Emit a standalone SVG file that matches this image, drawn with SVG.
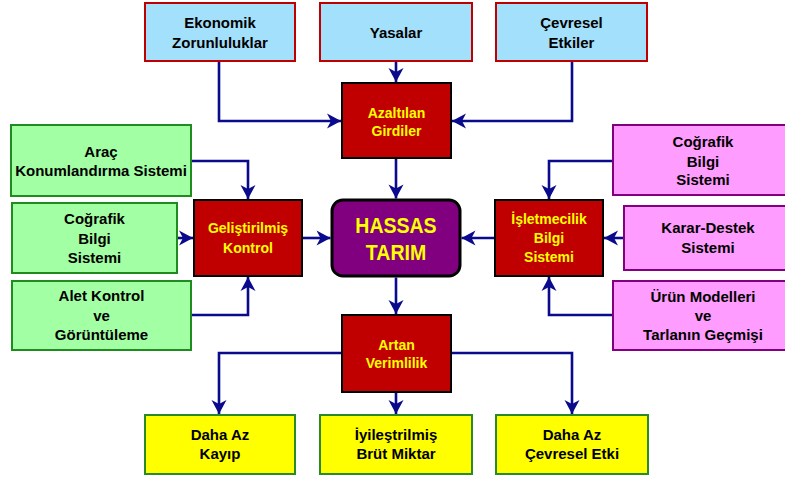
<svg xmlns="http://www.w3.org/2000/svg" width="785" height="477" viewBox="0 0 785 477">
  <style>
    text { font-family: "Liberation Sans", Arial, sans-serif; font-weight: bold; text-anchor: middle; }
    .t { font-size: 15px; fill: #000; }
    .y { font-size: 14px; fill: #ffff00; }
    .big { font-size: 19.5px; fill: #ffff00; }
    .blue { fill: #a3e0fb; stroke: #c00000; stroke-width: 2; }
    .green { fill: #a3ffa3; stroke: #1e8c1e; stroke-width: 2; }
    .pink { fill: #ff9cff; stroke: #800080; stroke-width: 2; }
    .yel { fill: #ffff00; stroke: #2a8a2a; stroke-width: 2; }
    .red { fill: #c00000; stroke: #000; stroke-width: 2; }
    .core { fill: #800080; stroke: #000; stroke-width: 3; }
    .edge { fill: none; stroke: #0a0a8c; stroke-width: 2.6; marker-end: url(#arrow); }
  </style>
  <defs>
    <marker id="arrow" markerUnits="userSpaceOnUse" markerWidth="16" markerHeight="18" viewBox="-15 -8 16 16" refX="0" refY="0" orient="auto">
      <path d="M-14,-7.5 L0,0 L-14,7.5 L-10,0 z" fill="#0a0a8c"/>
    </marker>
  </defs>

  <rect width="785" height="477" fill="#fff"/>

  <!-- top row: constraints -->
  <g id="ekonomik">
    <rect class="blue" x="145" y="3" width="150" height="58"/>
    <text class="t" x="220" y="28">Ekonomik</text>
    <text class="t" x="220" y="48">Zorunluluklar</text>
  </g>
  <g id="yasalar">
    <rect class="blue" x="320" y="3" width="152" height="58"/>
    <text class="t" x="396" y="38">Yasalar</text>
  </g>
  <g id="cevresel">
    <rect class="blue" x="496" y="3" width="151" height="58"/>
    <text class="t" x="571.5" y="28">Çevresel</text>
    <text class="t" x="571.5" y="48">Etkiler</text>
  </g>

  <g id="azaltilan">
    <rect class="red" x="342" y="83" width="109" height="75"/>
    <text class="y" x="396.5" y="118">Azaltılan</text>
    <text class="y" x="396.5" y="136">Girdiler</text>
  </g>

  <!-- left column -->
  <g id="arac">
    <rect class="green" x="11" y="125" width="180" height="71"/>
    <text class="t" x="101" y="157">Araç</text>
    <text class="t" x="101" y="176">Konumlandırma Sistemi</text>
  </g>
  <g id="cografik-sol">
    <rect class="green" x="12" y="203" width="165" height="70"/>
    <text class="t" x="94.5" y="224">Coğrafik</text>
    <text class="t" x="94.5" y="244">Bilgi</text>
    <text class="t" x="94.5" y="263">Sistemi</text>
  </g>
  <g id="alet">
    <rect class="green" x="12" y="281" width="179" height="69"/>
    <text class="t" x="101.5" y="301">Alet Kontrol</text>
    <text class="t" x="101.5" y="321">ve</text>
    <text class="t" x="101.5" y="340">Görüntüleme</text>
  </g>
  <g id="gelistirilmis">
    <rect class="red" x="194" y="200" width="108" height="76"/>
    <text class="y" x="248" y="233">Geliştirilmiş</text>
    <text class="y" x="248" y="253">Kontrol</text>
  </g>

  <!-- centre: title lettering is drawn slightly tall -->
  <g id="hassas">
    <rect class="core" x="332" y="200" width="128" height="76" rx="11" ry="11"/>
    <text class="big" transform="translate(396,232.5) scale(1,1.17)">HASSAS</text>
    <text class="big" transform="translate(396,259.5) scale(1,1.17)">TARIM</text>
  </g>

  <!-- right column -->
  <g id="isletmecilik">
    <rect class="red" x="495" y="200" width="108" height="76"/>
    <text class="y" x="549" y="224">İşletmecilik</text>
    <text class="y" x="549" y="243">Bilgi</text>
    <text class="y" x="549" y="262">Sistemi</text>
  </g>
  <g id="cografik-sag">
    <rect class="pink" x="613" y="125" width="182" height="70"/>
    <text class="t" x="703" y="147">Coğrafik</text>
    <text class="t" x="703" y="167">Bilgi</text>
    <text class="t" x="703" y="185">Sistemi</text>
  </g>
  <g id="karar">
    <rect class="pink" x="624" y="206" width="171" height="64"/>
    <text class="t" x="708" y="233">Karar-Destek</text>
    <text class="t" x="708" y="253">Sistemi</text>
  </g>
  <g id="urun">
    <rect class="pink" x="613" y="281" width="182" height="69"/>
    <text class="t" x="703" y="302">Ürün Modelleri</text>
    <text class="t" x="703" y="321">ve</text>
    <text class="t" x="703" y="340">Tarlanın Geçmişi</text>
  </g>

  <!-- bottom: outcomes -->
  <g id="artan">
    <rect class="red" x="342" y="315" width="109" height="77"/>
    <text class="y" x="396.5" y="350">Artan</text>
    <text class="y" x="396.5" y="368">Verimlilik</text>
  </g>
  <g id="kayip">
    <rect class="yel" x="145" y="415" width="150" height="59"/>
    <text class="t" x="220" y="440">Daha Az</text>
    <text class="t" x="220" y="459">Kayıp</text>
  </g>
  <g id="brut">
    <rect class="yel" x="320" y="415" width="152" height="59"/>
    <text class="t" x="396" y="440">İyileştrilmiş</text>
    <text class="t" x="396" y="459">Brüt Miktar</text>
  </g>
  <g id="cevre-etki">
    <rect class="yel" x="496" y="415" width="152" height="59"/>
    <text class="t" x="572" y="440">Daha Az</text>
    <text class="t" x="572" y="459">Çevresel Etki</text>
  </g>

  <!-- connectors -->
  <g id="connectors">
    <path class="edge" d="M219,62 V121 H341"/>
    <path class="edge" d="M396,62 V82"/>
    <path class="edge" d="M572,62 V121 H452"/>
    <path class="edge" d="M396,159 V198.5"/>
    <path class="edge" d="M192,161 H248 V199"/>
    <path class="edge" d="M178,238 H193"/>
    <path class="edge" d="M192,315 H248 V277"/>
    <path class="edge" d="M303,238 H330.5"/>
    <path class="edge" d="M612,161 H549 V199"/>
    <path class="edge" d="M623,238 H604"/>
    <path class="edge" d="M612,315 H549 V277"/>
    <path class="edge" d="M494,238 H461.5"/>
    <path class="edge" d="M396,277.5 V314"/>
    <path class="edge" d="M341,353 H219 V414"/>
    <path class="edge" d="M396,393 V414"/>
    <path class="edge" d="M452,353 H572 V414"/>
  </g>
</svg>
